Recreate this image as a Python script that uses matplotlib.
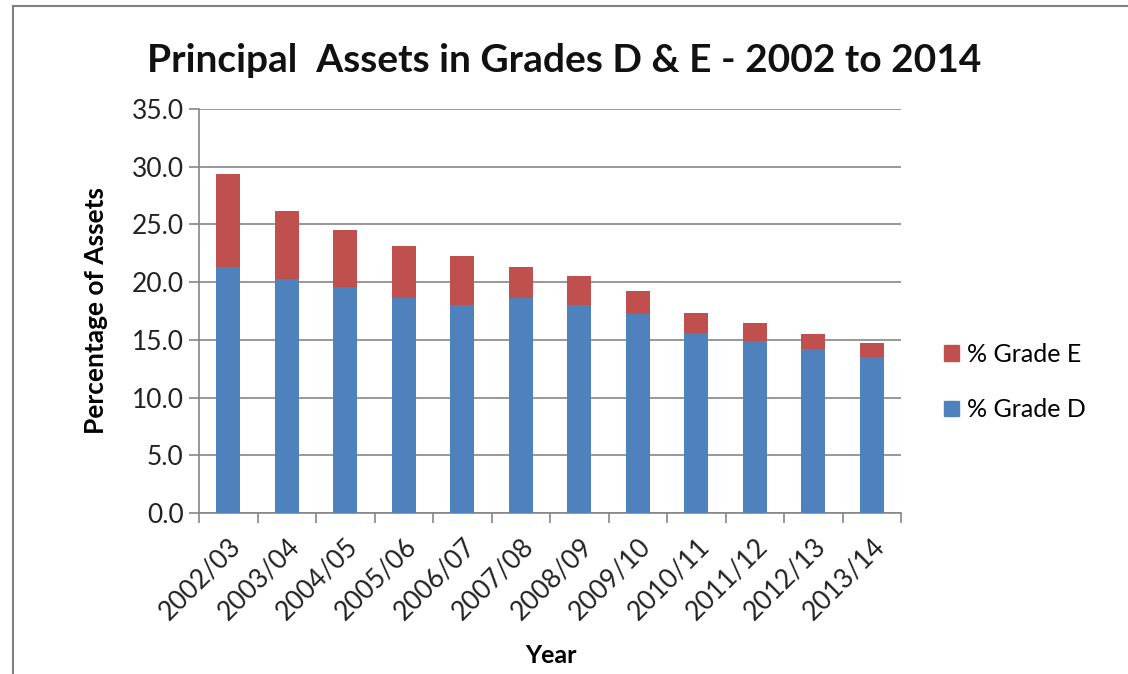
import numpy as np
import matplotlib
matplotlib.use("Agg")
import matplotlib.pyplot as plt
from matplotlib.patches import Rectangle
from matplotlib.lines import Line2D

years = ["2002/03", "2003/04", "2004/05", "2005/06", "2006/07", "2007/08",
         "2008/09", "2009/10", "2010/11", "2011/12", "2012/13", "2013/14"]
grade_d = [21.3, 20.3, 19.6, 18.6, 18.0, 18.6, 18.0, 17.2, 15.6, 14.9, 14.2, 13.5]
grade_e = [8.1, 5.9, 4.9, 4.5, 4.3, 2.7, 2.5, 2.0, 1.7, 1.6, 1.3, 1.2]
y_ticks = [0, 5, 10, 15, 20, 25, 30, 35]

blue = "#4F81BD"
red = "#C0504D"

plt.rcParams['font.family'] = ['Lato', 'DejaVu Sans']

fig = plt.figure(figsize=(11.28, 6.74), dpi=100)
ax = fig.add_axes([199 / 1128, 1 - 513 / 674, 702 / 1128, 404 / 674])

x = np.arange(len(years))
ax.bar(x, grade_d, width=0.41, color=blue, label="% Grade D", zorder=3)
ax.bar(x, grade_e, bottom=grade_d, width=0.41, color=red, label="% Grade E", zorder=3)

ax.set_xlim(-0.5, len(years) - 0.5)
ax.set_ylim(0, 35)
ax.set_yticks(y_ticks)
ax.set_yticklabels([f"{v:.1f}" for v in y_ticks], fontsize=19, color="#222222")
ax.yaxis.grid(True, color="#868686", linewidth=1.2, zorder=0)

ax.set_xticks(x)
ax.set_xticklabels(years, rotation=45, ha="right", rotation_mode="anchor", fontsize=19, color="#222222")
ax.tick_params(axis="x", length=0, pad=15)
# Excel-style tick marks between categories
ax.set_xticks(np.arange(-0.5, len(years), 1), minor=True)
ax.tick_params(axis="x", which="minor", length=7, color="#868686", width=1.2)
ax.tick_params(axis="y", length=7, color="#868686", width=1.2, pad=4)

for s in ["top", "right"]:
    ax.spines[s].set_visible(False)
ax.spines["left"].set_color("#868686")
ax.spines["bottom"].set_color("#868686")
ax.spines["left"].set_linewidth(1.2)
ax.spines["bottom"].set_linewidth(1.2)

ax.set_ylabel("Percentage of Assets", fontsize=19, fontweight="bold", labelpad=17)
ax.set_xlabel("Year", fontsize=18, fontweight="bold")
ax.xaxis.set_label_coords(0.502, -0.325)

fig.text(0.5, 1 - 60 / 674, "Principal  Assets in Grades D & E - 2002 to 2014",
         ha="center", va="center", fontsize=28, fontweight="bold", color="#111111")

handles = [Rectangle((0, 0), 1, 1, color=red), Rectangle((0, 0), 1, 1, color=blue)]
fig.legend(handles, ["% Grade E", "% Grade D"], loc="center left",
           bbox_to_anchor=(921 / 1128, 1 - 382 / 674), frameon=False, fontsize=18,
           handlelength=0.6, handleheight=0.6, handletextpad=0.35, labelspacing=1.3)

# image frame
fig.add_artist(Line2D([13 / 1128, 13 / 1128], [0, 1 - 6 / 674], color="#808080", linewidth=1.5))
fig.add_artist(Line2D([13 / 1128, 1], [1 - 6 / 674, 1 - 6 / 674], color="#808080", linewidth=1.5))

fig.savefig("out.png", dpi=100)
